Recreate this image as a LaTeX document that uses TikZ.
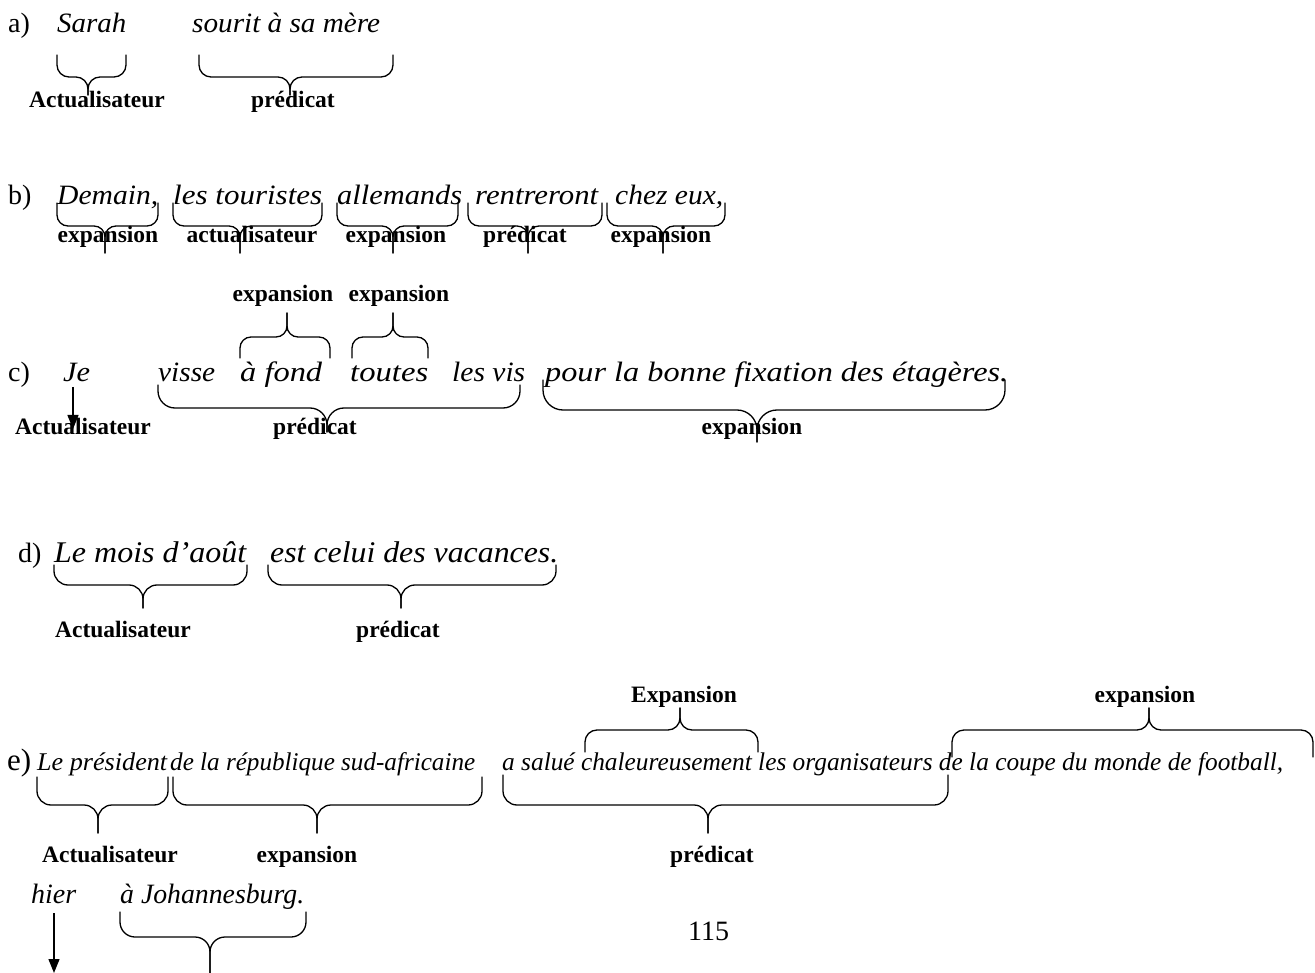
\documentclass[tikz,border=0pt]{standalone}
\usepackage{fontspec}
\setmainfont{Liberation Serif}
\usepackage{graphicx}
\usetikzlibrary{arrows.meta}
\newcommand\fw[2]{\resizebox{#1pt}{\height}{#2}}
% brace: x1, x2, xtip, yend, ymid, ytip, radius
\newcommand\wbrace[7]{%
  \draw[brc, rounded corners=#7pt] (#1,#4) -- (#1,#5) -- (#3,#5) -- (#3,#6);
  \draw[brc, rounded corners=#7pt] (#2,#4) -- (#2,#5) -- (#3,#5) -- (#3,#6);}
\tikzset{
  txt/.style={anchor=base west, inner sep=0pt, font=\fontsize{28}{30}\selectfont\itshape},
  txtd/.style={anchor=base west, inner sep=0pt, font=\fontsize{30}{32}\selectfont\itshape},
  txte/.style={anchor=base west, inner sep=0pt, font=\fontsize{25.5}{27}\selectfont\itshape},
  num/.style={anchor=base west, inner sep=0pt, font=\fontsize{28}{30}\selectfont},
  lab/.style={anchor=base, inner sep=0pt, font=\fontsize{23.5}{25}\selectfont\bfseries},
  brc/.style={line width=1.3pt, line cap=round},
  arr/.style={line width=1.3pt, -{Triangle[length=14pt,width=11pt]}}
}
\begin{document}
\begin{tikzpicture}[x=1pt,y=-1pt]
\useasboundingbox (0,0) rectangle (1315,973);
\fill[white] (0,0) rectangle (1315,973);

% ---- a)
\node[num] (na) at (8,33) {a)};
\node[txt] (a1) at (57,33) {\fw{69}{Sarah}};
\node[txt] (a2) at (192,33) {\fw{188}{sourit à sa mère}};
\wbrace{57}{126}{88}{55}{77}{95}{12}
\wbrace{199}{393}{290}{55}{77}{95}{12}
\node[lab] (la1) at (97,108) {Actualisateur};
\node[lab] (la2) at (293,108) {prédicat};

% ---- b)
\node[num] (nb) at (8,205) {b)};
\node[txt] (b1) at (57,205) {\fw{101}{Demain,}};
\node[txt] (b2) at (173,205) {\fw{149}{les touristes}};
\node[txt] (b3) at (337,205) {\fw{125}{allemands}};
\node[txt] (b4) at (475,205) {\fw{123}{rentreront}};
\node[txt] (b5) at (615,205) {\fw{108}{chez eux,}};
\wbrace{57}{158}{105}{203}{226}{253}{11}
\wbrace{173}{322}{240}{203}{226}{253}{11}
\wbrace{337}{458}{393}{203}{226}{253}{11}
\wbrace{468}{602}{528}{203}{226}{253}{11}
\wbrace{607}{725}{663}{203}{226}{253}{11}
\node[lab] (lb1) at (108,243) {expansion};
\node[lab] (lb2) at (252,243) {actualisateur};
\node[lab] (lb3) at (396,243) {expansion};
\node[lab] (lb4) at (525,243) {prédicat};
\node[lab] (lb5) at (661,243) {expansion};

% ---- c)
\node[lab] (lc0a) at (283,302) {expansion};
\node[lab] (lc0b) at (399,302) {expansion};
\wbrace{240}{330}{287}{358}{337}{313}{11}
\wbrace{352}{428}{393}{358}{337}{313}{11}
\node[num] (nc) at (8,382) {c)};
\node[txt] (c1) at (63,382) {\fw{27}{Je}};
\node[txt] (c2) at (158,382) {\fw{57}{visse}};
\node[txt] (c3) at (240,382) {\fw{82}{à fond}};
\node[txt] (c4) at (350,382) {\fw{78}{toutes}};
\node[txt] (c5) at (452,382) {\fw{73}{les vis}};
\node[txt] (c6) at (545,382) {\fw{463}{pour la bonne fixation des étagères.}};
\coordinate (ca1) at (73,387);
\coordinate (ca2) at (73,429);
\draw[arr] (ca1) -- (ca2);
\wbrace{158}{520}{327}{385}{408}{432}{17}
\wbrace{543}{1005}{757}{380}{410}{442}{20}
\node[lab] (lc1) at (83,435) {Actualisateur};
\node[lab] (lc2) at (315,435) {prédicat};
\node[lab] (lc3) at (752,435) {expansion};

% ---- d)
\node[num] (nd) at (18,562) {d)};
\node[txtd] (d1) at (54,562) {\fw{192}{Le mois d’août}};
\node[txtd] (d2) at (270,562) {\fw{288}{est celui des vacances.}};
\wbrace{54}{247}{143}{565}{585}{608}{14}
\wbrace{268}{556}{401}{565}{585}{608}{14}
\node[lab] (ld1) at (123,637) {Actualisateur};
\node[lab] (ld2) at (398,637) {prédicat};

% ---- e)
\node[lab] (le0a) at (684,702) {Expansion};
\node[lab] (le0b) at (1145,702) {expansion};
\wbrace{585}{758}{680}{752}{730}{708}{12}
\wbrace{952}{1313}{1149}{757}{730}{708}{12}
\node[num,font=\fontsize{31}{33}\selectfont] (ne) at (7,770) {e)};
\node[txte] (e1) at (37,770) {\fw{130}{Le président}};
\node[txte] (e2) at (170,770) {\fw{305}{de la république sud-africaine}};
\node[txte] (e3) at (502,770) {\fw{781}{a salué chaleureusement les organisateurs de la coupe du monde de football,}};
\wbrace{37}{168}{98}{777}{805}{833}{14}
\wbrace{173}{482}{317}{777}{805}{833}{14}
\wbrace{503}{948}{708}{775}{805}{833}{14}
\node[lab] (le1) at (110,862) {Actualisateur};
\node[lab] (le2) at (307,862) {expansion};
\node[lab] (le3) at (712,862) {prédicat};

% ---- f)
\node[txt] (f1) at (31,903) {hier};
\node[txt] (f2) at (120,903) {\fw{184}{à Johannesburg.}};
\coordinate (fa1) at (54,913);
\coordinate (fa2) at (54,973);
\draw[arr] (fa1) -- (fa2);
\wbrace{120}{306}{210}{912}{937}{980}{15}
\node[num] (pg) at (688,940) {115};
\end{tikzpicture}
\end{document}
